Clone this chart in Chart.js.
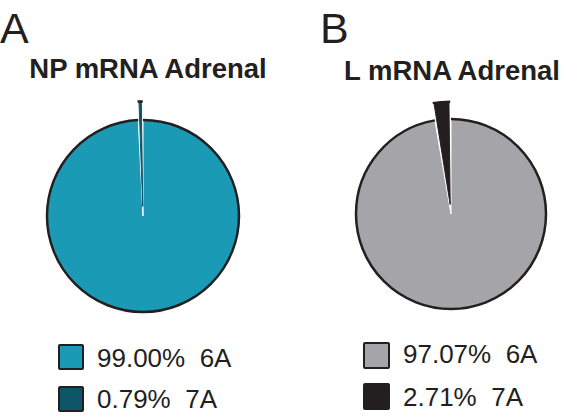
<!DOCTYPE html>
<html>
<head>
<meta charset="utf-8">
<title>NP / L mRNA Adrenal</title>
<script src="https://cdn.jsdelivr.net/npm/chart.js@4.4.1/dist/chart.umd.min.js"></script>
<style>
  html, body { margin: 0; padding: 0; background: #fff; }
  body {
    width: 566px; height: 417px; position: relative; overflow: hidden;
    font-family: Arial, "Liberation Sans", Helvetica, sans-serif; color: #231f20;
  }
  .letter { position: absolute; font-size: 43px; line-height: 43px; }
  .title {
    position: absolute; width: 300px; text-align: center; white-space: nowrap;
    font-size: 27.5px; line-height: 27px; font-weight: bold;
  }
  .chart-box { position: absolute; }
  .swatch { position: absolute; box-sizing: border-box; border: 2px solid #231f20; border-radius: 2px; }
  .legend-text { position: absolute; white-space: nowrap; font-size: 26px; line-height: 26px; }
</style>
</head>
<body>

<div class="letter" style="left:0px; top:7px;">A</div>
<div class="letter" style="left:320px; top:7px;">B</div>
<div class="title" id="titleA" style="left:-2px; top:55px;"></div>
<div class="title" id="titleB" style="left:302px; top:57px;"></div>

<div class="chart-box" style="left:0px; top:96px; width:286px; height:240px;">
  <canvas id="pieA" width="286" height="240"></canvas>
</div>
<div class="chart-box" style="left:336px; top:94px; width:230px; height:240px;">
  <canvas id="pieB" width="230" height="240"></canvas>
</div>

<div id="legendA"></div>
<div id="legendB"></div>

<script>
// data
const categories = ['6A', '7A'];
const npValues = [99.00, 0.79];
const lValues = [97.07, 2.71];
const chartTitles = ['NP mRNA Adrenal', 'L mRNA Adrenal'];

// colours
const npColors = ['#1a9ab4', '#0d5568'];
const lColors = ['#a4a4a9', '#231f20'];
const outlineColor = '#231f20';

// draws the dark rim only on the outer edge of every slice
// (same geometry Chart.js uses for an offset arc: shift offset/4, grow by offset/4 * fix)
const outerOutline = {
  id: 'outerOutline',
  afterDatasetsDraw(chart) {
    const ctx = chart.ctx;
    chart.getDatasetMeta(0).data.forEach(arc => {
      const p = arc.getProps(['x', 'y', 'startAngle', 'endAngle', 'outerRadius', 'circumference']);
      const offset = (arc.options.offset || 0) / 4;
      const mid = (p.startAngle + p.endAngle) / 2;
      const fix = 1 - Math.sin(Math.min(Math.PI, p.circumference || 0));
      const r = p.outerRadius + offset * fix;
      const cx = p.x + Math.cos(mid) * offset;
      const cy = p.y + Math.sin(mid) * offset;
      ctx.save();
      ctx.beginPath();
      ctx.arc(cx, cy, r, p.startAngle, p.endAngle);
      ctx.lineWidth = 2.5;
      ctx.strokeStyle = outlineColor;
      ctx.stroke();
      ctx.restore();
    });
  }
};

function makePie(canvasId, values, colors, radius) {
  return new Chart(document.getElementById(canvasId), {
    type: 'pie',
    data: {
      labels: categories,
      datasets: [{
        data: values,
        backgroundColor: colors,
        // white seam on the big slice, the small one keeps its own colour
        borderColor: ['#ffffff', colors[1]],
        borderWidth: 1,
        offset: [0, 38],
        radius: radius
      }]
    },
    options: {
      responsive: false,
      animation: false,
      devicePixelRatio: 1,
      events: [],
      layout: { padding: 0 },
      plugins: {
        legend: { display: false },
        tooltip: { enabled: false },
        title: { display: false }
      }
    },
    plugins: [outerOutline]
  });
}

function makeLegend(containerId, values, colors, pos) {
  const box = document.getElementById(containerId);
  values.forEach((v, i) => {
    const sw = document.createElement('div');
    sw.className = 'swatch';
    sw.style.left = pos.swatchX + 'px';
    sw.style.top = pos.swatchY[i] + 'px';
    sw.style.width = pos.size + 'px';
    sw.style.height = pos.size + 'px';
    sw.style.background = colors[i];
    box.appendChild(sw);

    const tx = document.createElement('div');
    tx.className = 'legend-text';
    tx.style.left = pos.textX + 'px';
    tx.style.top = pos.textY[i] + 'px';
    tx.textContent = v.toFixed(2) + '%\u00a0\u00a0' + categories[i];
    box.appendChild(tx);
  });
}

document.addEventListener('DOMContentLoaded', function() {
  if (typeof Chart === 'undefined') {
    console.error('Chart.js is not loaded');
    return;
  }
  document.getElementById('titleA').textContent = chartTitles[0];
  document.getElementById('titleB').textContent = chartTitles[1];

  makePie('pieA', npValues, npColors, 96);
  makePie('pieB', lValues, lColors, 95);

  makeLegend('legendA', npValues, npColors,
    { swatchX: 58, swatchY: [344, 386], size: 26, textX: 97, textY: [345, 386] });
  makeLegend('legendB', lValues, lColors,
    { swatchX: 363, swatchY: [342, 383], size: 27, textX: 403, textY: [341, 384] });
});
</script>
</body>
</html>
